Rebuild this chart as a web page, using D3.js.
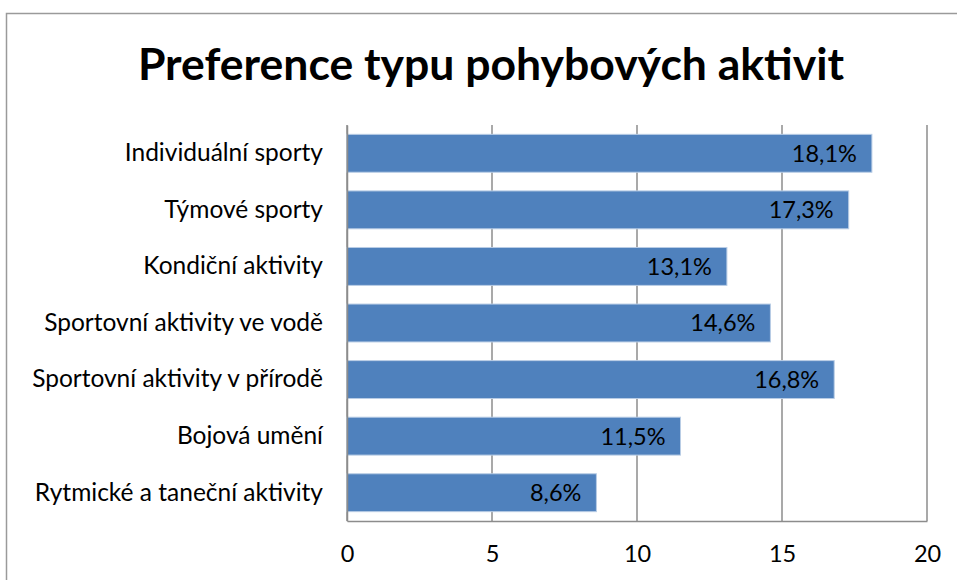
<!DOCTYPE html>
<html>
<head>
<meta charset="utf-8">
<script src="https://cdn.jsdelivr.net/npm/d3@7"></script>
<style>
  body { margin: 0; background: #fff; }
  svg { display: block; font-family: Lato, "Open Sans", sans-serif; }
</style>
</head>
<body>
<svg></svg>
<script>
let categories = [
  "Individuální sporty",
  "Týmové sporty",
  "Kondiční aktivity",
  "Sportovní aktivity ve vodě",
  "Sportovní aktivity v přírodě",
  "Bojová umění",
  "Rytmické a taneční aktivity"
]
let values = [18.1, 17.3, 13.1, 14.6, 16.8, 11.5, 8.6]
let ticks = [0, 5, 10, 15, 20]
let title = "Preference typu pohybových aktivit"

let width = 957
let height = 580
let font = 'Lato, "Open Sans", sans-serif'

let svg = d3.select('svg')
  .attr('width', width)
  .attr('height', height)

// outer chart frame
svg.append('rect')
  .attr('x', 6.5).attr('y', 13.5)
  .attr('width', 980).attr('height', 600)
  .attr('fill', 'none')
  .attr('stroke', '#9a9a9a')
  .attr('stroke-width', 1.5)

svg.append('text')
  .attr('x', 491).attr('y', 80)
  .attr('text-anchor', 'middle')
  .attr('font-size', 44.5)
  .attr('font-weight', 'bold')
  .text(title)

let x = d3.scaleLinear().domain([0, 20]).range([347, 927])
let y = d3.scaleBand().domain(categories).range([125, 521]).paddingInner(0.33).paddingOuter(0.165)

// gridlines
svg.append('g').selectAll('line')
  .data(ticks)
  .join('line')
  .attr('x1', d => x(d)).attr('x2', d => x(d))
  .attr('y1', 125).attr('y2', 521)
  .attr('stroke', '#8c8c8c')
  .attr('stroke-width', 1.5)

// bars
svg.append('g').selectAll('rect')
  .data(values)
  .join('rect')
  .attr('x', x(0))
  .attr('y', (d, i) => y(categories[i]))
  .attr('width', d => x(d) - x(0))
  .attr('height', y.bandwidth())
  .attr('fill', '#4f81bd')
  .attr('stroke', '#b9cde5')
  .attr('stroke-width', 1)

// data labels
svg.append('g').selectAll('text')
  .data(values)
  .join('text')
  .attr('x', d => x(d) - 15)
  .attr('y', (d, i) => y(categories[i]) + y.bandwidth() / 2)
  .attr('dy', '0.36em')
  .attr('text-anchor', 'end')
  .attr('font-size', 23.5)
  .attr('fill', '#000')
  .text(d => d.toFixed(1).replace('.', ',') + '%')

// x axis
let xAxis = d3.axisBottom(x).tickValues(ticks).tickSize(0).tickPadding(24)
let gx = svg.append('g')
  .attr('transform', 'translate(0,521)')
  .call(xAxis)
gx.select('.domain').attr('stroke', '#8c8c8c').attr('stroke-width', 1.5)
gx.selectAll('text').attr('font-size', 23.5).attr('font-family', font).attr('fill', '#000')

// y axis
let yAxis = d3.axisLeft(y).tickSize(0).tickPadding(24)
let gy = svg.append('g')
  .attr('transform', 'translate(347,0)')
  .call(yAxis)
gy.select('.domain').attr('stroke', '#8c8c8c').attr('stroke-width', 1.5)
gy.selectAll('text').attr('font-size', 24.5).attr('font-family', font).attr('fill', '#000')
</script>
</body>
</html>
